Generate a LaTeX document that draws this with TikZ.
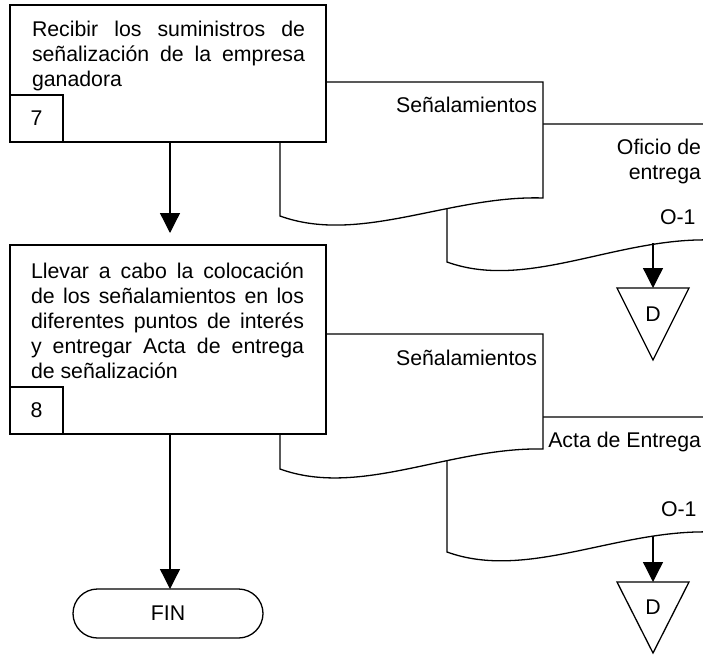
\documentclass[tikz,border=0pt]{standalone}
\usepackage{fontspec}
\setmainfont{Liberation Sans}
\usetikzlibrary{arrows.meta}
\newcommand{\jline}[1]{\makebox[273pt][s]{#1}}
\tikzset{
  txt/.style={font=\fontsize{21.3}{25}\selectfont, inner sep=0pt, outer sep=0pt},
  procbox/.style={draw, fill=white, line width=1.8pt, inner sep=0pt, outer sep=0pt, anchor=north west},
  numbox/.style={draw, fill=white, line width=1.5pt, inner sep=0pt, outer sep=0pt, anchor=north west,
                 minimum width=53pt, minimum height=47pt, font=\fontsize{21.3}{25}\selectfont},
  docshape/.style={draw, fill=white, line width=1.3pt, line join=miter},
  tri/.style={draw, fill=white, line width=1.3pt},
  arr/.style={line width=1.3pt, -{Triangle[width=20pt,length=20pt]}},
  term/.style={draw, fill=white, line width=1.3pt, rounded corners=24.5pt, minimum width=190pt,
               minimum height=49pt, inner sep=0pt, font=\fontsize{21.3}{25}\selectfont},
}
\begin{document}
\begin{tikzpicture}[x=1pt, y=-1pt]
\useasboundingbox (0,0) rectangle (703,655);
\fill[white] (0,0) rectangle (703,655);
\clip (0,0) rectangle (703,655);

% ---------- upper part ----------
% document "Oficio de entrega"
\draw[docshape] (447,124) -- (712,124) -- (712,240)
   .. controls (617,237) and (527,291) .. (447,262) -- cycle;
\coordinate (w2) at (653,243);
% document "Señalamientos"
\draw[docshape] (280,82) -- (543,82) -- (543,198)
   .. controls (450,195) and (360,245) .. (280,216) -- cycle;
\node[txt, anchor=base east] (s1) at (537,113) {Señalamientos};
\node[txt, anchor=base east] (o1a) at (701,154) {Oficio de};
\node[txt, anchor=base east] (o1b) at (701,179) {entrega};
\node[txt, anchor=base west] (o1c) at (660,224) {O-1};

% process box 7
\node[procbox, minimum width=316pt, minimum height=137pt] (b1) at (10,5) {};
\node[txt, anchor=base west] (b1l1) at (32,37) {\jline{Recibir los suministros de}};
\node[txt, anchor=base west] (b1l2) at (32,62) {\jline{señalización de la empresa}};
\node[txt, anchor=base west] (b1l3) at (32,87) {ganadora};
\node[numbox] (n7) at (10,95) {7};

% triangle D (upper)
\coordinate (t1) at (653,288);
\draw[tri] (617,288) -- (689,288) -- (653,360) -- cycle;
\node[txt] (d1) at (653,314) {D};
\draw[arr] (w2) -- (t1);

% arrow box 7 -> box 8
\coordinate (a1) at (170,233);
\draw[arr] (b1.south -| a1) -- (a1);

% ---------- lower part ----------
% document "Acta de Entrega"
\draw[docshape] (447,417) -- (712,417) -- (712,532)
   .. controls (617,529) and (527,581) .. (447,552) -- cycle;
\coordinate (w4) at (653,536);
% document "Señalamientos"
\draw[docshape] (280,334) -- (543,334) -- (543,449)
   .. controls (450,447) and (360,498) .. (280,469) -- cycle;
\node[txt, anchor=base east] (s3) at (537,365) {Señalamientos};
\node[txt, anchor=base east] (ae) at (701,447) {Acta de Entrega};
\node[txt, anchor=base west] (o2) at (661,516) {O-1};

% process box 8
\node[procbox, minimum width=316pt, minimum height=189pt] (b2) at (10,245) {};
\node[txt, anchor=base west] (b2l1) at (31,278) {\jline{Llevar a cabo la colocación}};
\node[txt, anchor=base west] (b2l2) at (31,303) {\jline{de los señalamientos en los}};
\node[txt, anchor=base west] (b2l3) at (31,328) {\jline{diferentes puntos de interés}};
\node[txt, anchor=base west] (b2l4) at (31,353) {\jline{y entregar Acta de entrega}};
\node[txt, anchor=base west] (b2l5) at (31,378) {de señalización};
\node[numbox] (n8) at (10,387) {8};

% triangle D (lower)
\coordinate (t2) at (653,582);
\draw[tri] (617,582) -- (689,582) -- (653,653) -- cycle;
\node[txt] (d2) at (653,607) {D};
\draw[arr] (w4) -- (t2);

% terminal FIN
\node[term] (fin) at (168,613.5) {FIN};
\coordinate (a2) at (170,589);
\draw[arr] (b2.south -| a2) -- (a2);
\end{tikzpicture}
\end{document}
